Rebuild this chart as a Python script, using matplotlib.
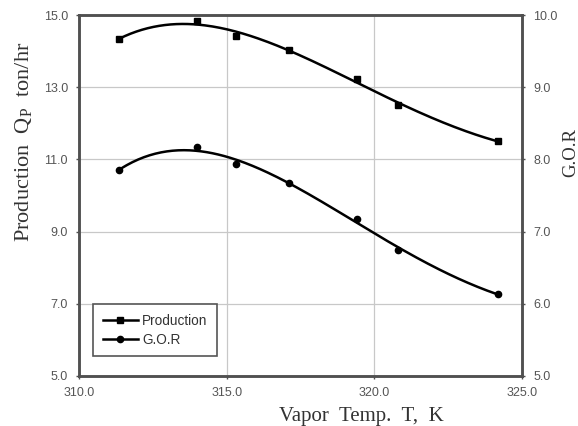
import numpy as np
import matplotlib.pyplot as plt
from matplotlib.lines import Line2D

# data
temp = [311.36, 314.0, 315.3, 317.1, 319.4, 320.8, 324.2]
production = [14.33, 14.83, 14.42, 14.03, 13.22, 12.51, 11.50]
gor = [7.85, 8.17, 7.93, 7.68, 7.17, 6.75, 6.13]

x_ticks = [310.0, 315.0, 320.0, 325.0]
left_ticks = [5.0, 7.0, 9.0, 11.0, 13.0, 15.0]
right_ticks = [5.0, 6.0, 7.0, 8.0, 9.0, 10.0]


def smooth(x, y, deg=4):
    # trend curve through the points, like the spreadsheet smoothing in the source
    c = np.polyfit(x, y, deg)
    xs = np.linspace(min(x), max(x), 200)
    return xs, np.polyval(c, xs)


fig = plt.figure(figsize=(5.78, 4.26), dpi=100)
ax = fig.add_axes([79 / 578, 1 - 376 / 426, 443 / 578, 361 / 426])
ax2 = ax.twinx()

tick_color = "#555555"
spine_color = "#505050"
sans = "Liberation Sans"
serif = "Liberation Serif"

xs, ys = smooth(temp, production)
ax.plot(xs, ys, color="black", lw=1.8, zorder=3)
ax.plot(temp, production, ls="none", marker="s", ms=4.5, color="black", zorder=4)

xs, ys = smooth(temp, gor)
ax2.plot(xs, ys, color="black", lw=1.8, zorder=3)
ax2.plot(temp, gor, ls="none", marker="o", ms=4.5, color="black", zorder=4)

ax.set_xlim(310, 325)
ax.set_ylim(5, 15)
ax2.set_ylim(5, 10)
ax.set_xticks(x_ticks)
ax.set_yticks(left_ticks)
ax2.set_yticks(right_ticks)
ax.set_xticklabels([f"{v:.1f}" for v in x_ticks])
ax.set_yticklabels([f"{v:.1f}" for v in left_ticks])
ax2.set_yticklabels([f"{v:.1f}" for v in right_ticks])

ax.grid(True, color="#c8c8c8", lw=0.9)
ax.set_axisbelow(True)

for a in (ax, ax2):
    a.tick_params(labelsize=9, labelcolor=tick_color, length=2, color=spine_color,
                  width=1, pad=6)
    for lab in a.get_xticklabels() + a.get_yticklabels():
        lab.set_family(sans)
    for s in a.spines.values():
        s.set_color(spine_color)
        s.set_linewidth(1.8)

ax.set_ylabel(r"Production  Q$_{\mathregular{P}}$  ton/hr", family=serif, fontsize=16,
              color="#333333")
ax.yaxis.set_label_coords(-0.10, 0.65)
ax2.set_ylabel("G.O.R", family=serif, fontsize=13.5, color="#333333")
ax2.yaxis.set_label_coords(1.09, 0.62)
ax.set_xlabel("Vapor  Temp.  T,  K", family=serif, fontsize=15, color="#333333")
ax.xaxis.set_label_coords(0.637, -0.085)

handles = [
    Line2D([], [], color="black", lw=1.8, marker="s", ms=4.5),
    Line2D([], [], color="black", lw=1.8, marker="o", ms=4.5),
]
leg = ax.legend(handles, ["Production", "G.O.R"], loc="lower left",
                bbox_to_anchor=(0.032, 0.055), prop={"family": sans, "size": 9.8},
                fancybox=False, framealpha=1, edgecolor="#555555", handlelength=2.6,
                borderpad=0.7, labelspacing=0.35, handletextpad=0.3,
                borderaxespad=0)
leg.get_frame().set_linewidth(1.2)
for t in leg.get_texts():
    t.set_color("#333333")

fig.savefig("out.png", dpi=100)
